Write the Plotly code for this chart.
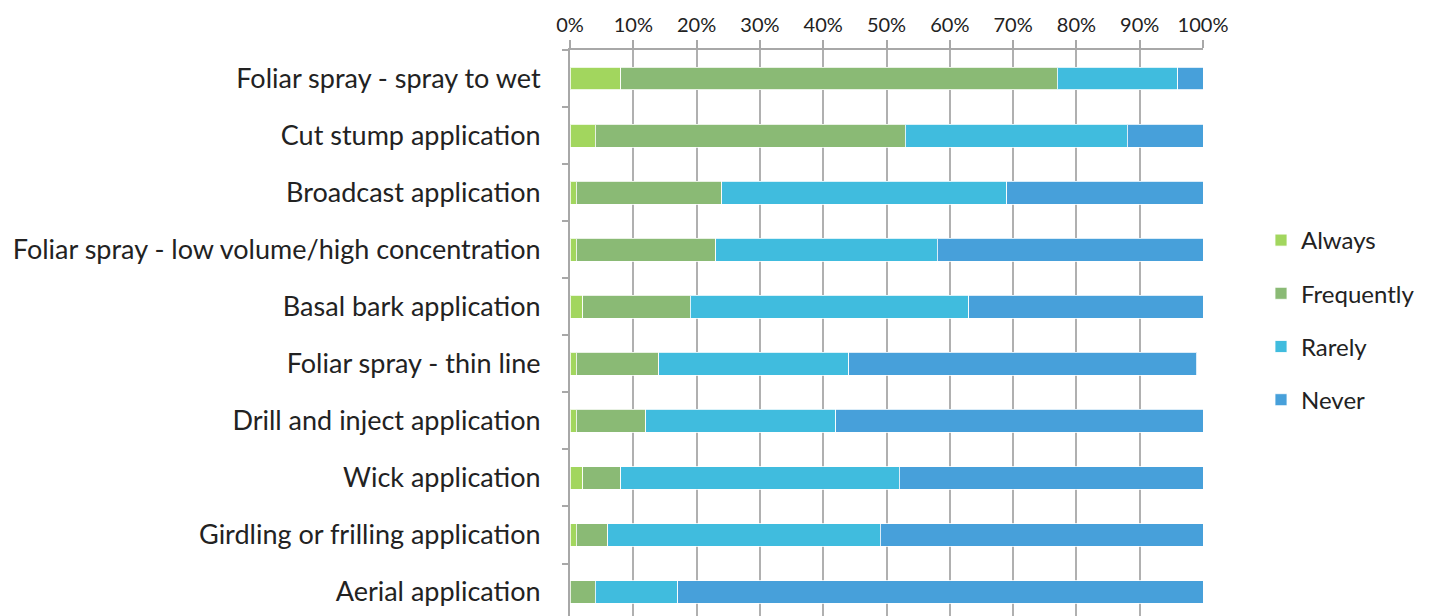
import plotly.graph_objects as go

categories = [
    "Foliar spray - spray to wet",
    "Cut stump application",
    "Broadcast application",
    "Foliar spray - low volume/high concentration",
    "Basal bark application",
    "Foliar spray - thin line",
    "Drill and inject application",
    "Wick application",
    "Girdling or frilling application",
    "Aerial application",
]
always = [8, 4, 1, 1, 2, 1, 1, 2, 1, 0]
frequently = [69, 49, 23, 22, 17, 13, 11, 6, 5, 4]
rarely = [19, 35, 45, 35, 44, 30, 30, 44, 43, 13]
never = [4, 12, 31, 42, 37, 55, 58, 48, 51, 83]

series = [
    ("Always", always, "#a2d65e"),
    ("Frequently", frequently, "#8aba75"),
    ("Rarely", rarely, "#40bcde"),
    ("Never", never, "#47a0da"),
]

fig = go.Figure()
for name, vals, color in series:
    fig.add_trace(go.Bar(
        y=categories, x=vals, name=name, orientation="h",
        marker=dict(color=color, line=dict(color="rgba(255,255,255,0.8)", width=1)),
        legendgroup=name,
    ))

font_family = "Lato, 'Open Sans', sans-serif"
fig.update_layout(
    width=1434, height=616,
    barmode="stack", bargap=0.6,
    plot_bgcolor="white", paper_bgcolor="white",
    margin=dict(l=562, r=239, t=42, b=8, autoexpand=False),
    font=dict(family=font_family, color="#222", size=21),
    legend=dict(
        xref="container", yref="container",
        x=1253 / 1434, y=1 - 210 / 616, xanchor="left", yanchor="top",
        traceorder="grouped", tracegroupgap=19,
        font=dict(size=24, family=font_family),
        itemwidth=30,
    ),
    showlegend=True,
)
fig.update_xaxes(
    side="top", range=[0, 100], dtick=10, ticksuffix="%",
    showgrid=True, gridcolor="#b0b0b0", gridwidth=1.5,
    zeroline=False, showline=True, linecolor="#a8a8a8", linewidth=2,
    ticks="outside", ticklen=8, tickcolor="#a8a8a8", tickwidth=2,
    tickfont=dict(size=20, family=font_family),
    automargin=False,
)
fig.update_yaxes(
    type="category", categoryorder="array", categoryarray=categories,
    range=[9.42, -0.5],
    showline=True, linecolor="#a8a8a8", linewidth=2,
    ticks="outside", tickson="boundaries", ticklen=6, tickcolor="#a8a8a8", tickwidth=2,
    ticklabelstandoff=22,
    tickfont=dict(size=27, family=font_family),
    showgrid=False, automargin=False,
)
fig.write_html("out.html")
